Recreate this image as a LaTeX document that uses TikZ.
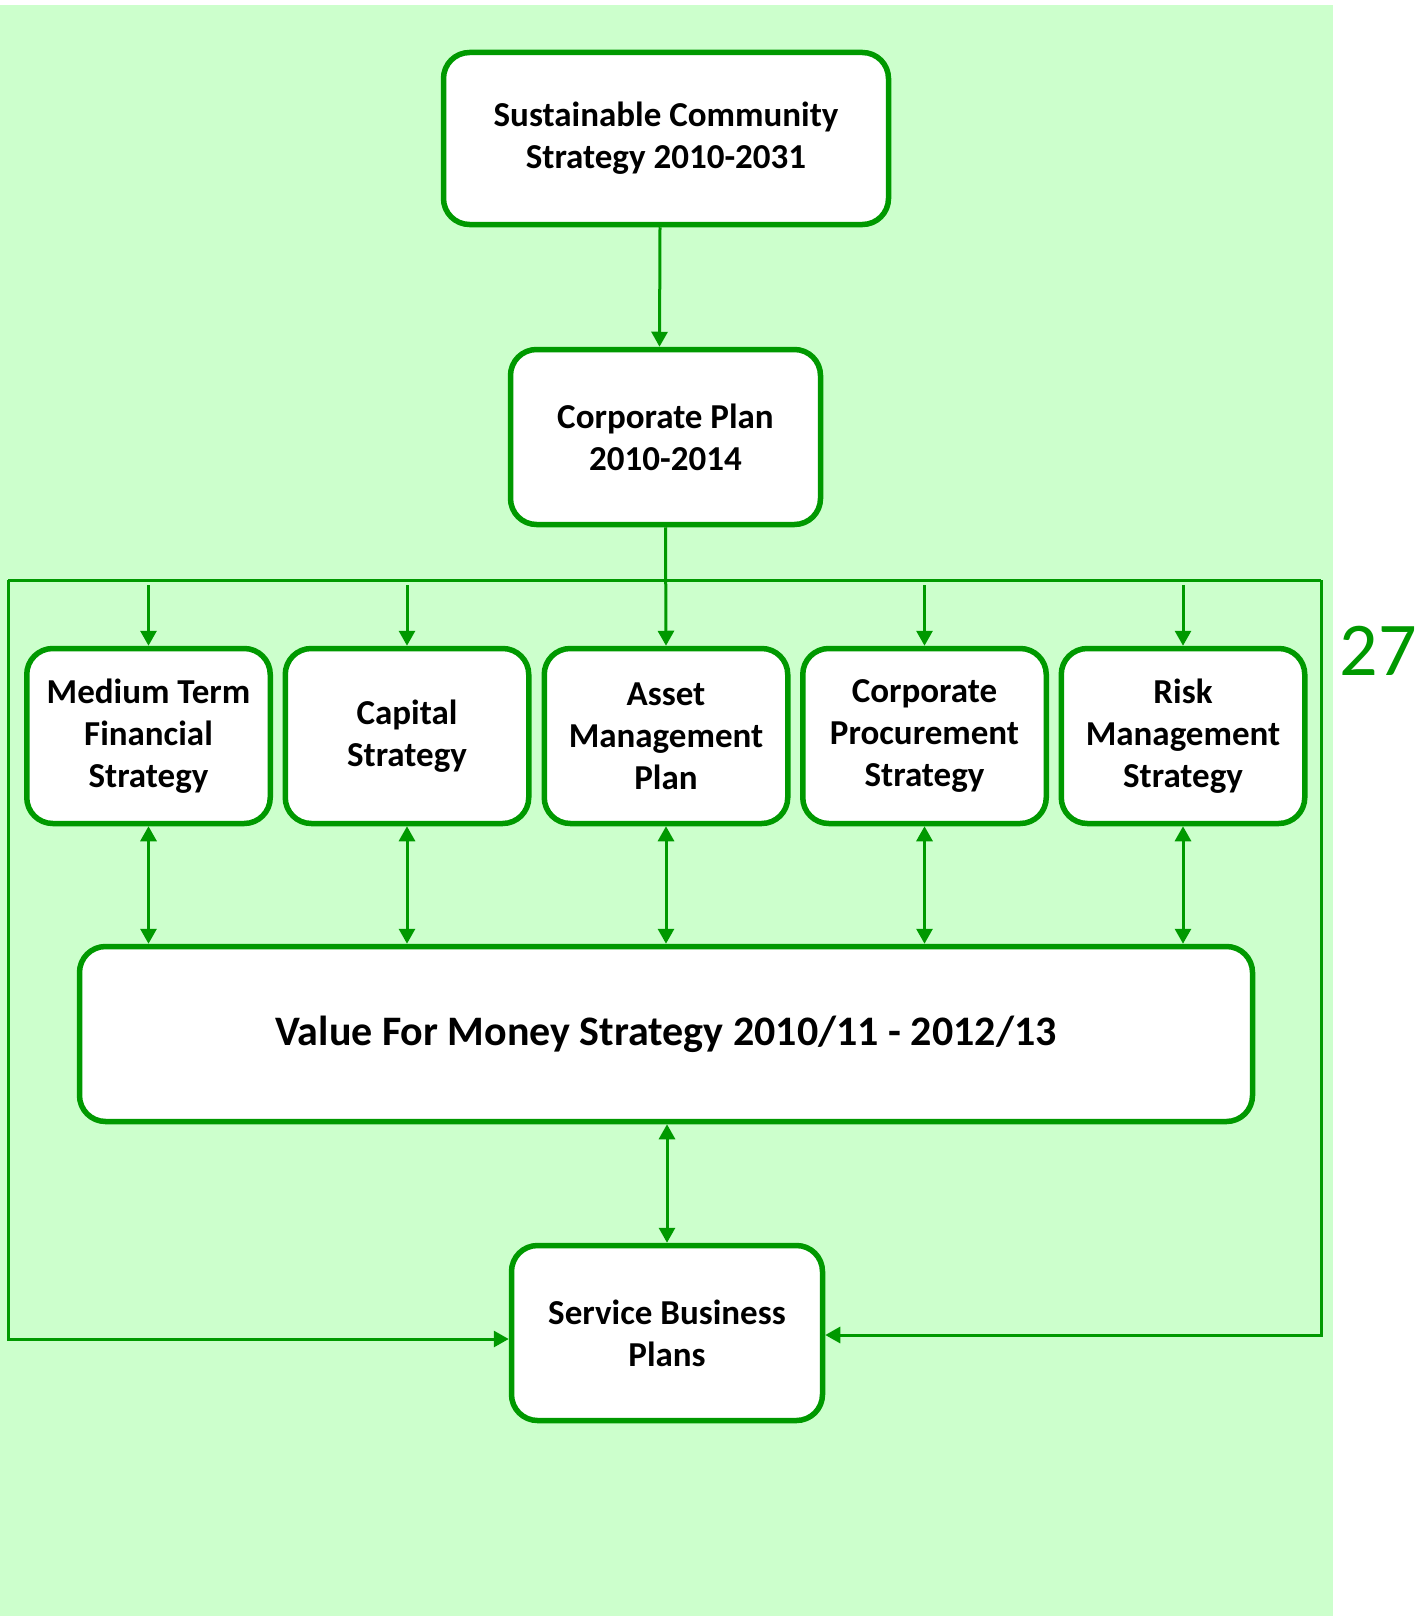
\documentclass[tikz,border=0pt]{standalone}
\usepackage{fontspec}
\setmainfont{Carlito}
\usetikzlibrary{arrows.meta}

\definecolor{linegreen}{RGB}{0,153,0}
\definecolor{bggreen}{RGB}{204,255,204}

\begin{document}
\begin{tikzpicture}[x=1pt, y=-1pt,
  box/.style={draw=linegreen, line width=5.5pt, fill=white, rounded corners=26pt,
    align=center, font=\fontsize{35}{42}\selectfont\bfseries, minimum height=175pt},
  link/.style={draw=linegreen, line width=3pt, -{Triangle[length=15pt,width=16pt]}},
  twoway/.style={link, {Triangle[length=15pt,width=16pt]}-{Triangle[length=15pt,width=16pt]}},
  frame/.style={draw=linegreen, line width=3pt}]
  \useasboundingbox (0,0) rectangle (1424,1616);
  \fill[bggreen] (0,5) rectangle (1333,1616);

  % plans
  \node[box, minimum width=445pt, minimum height=172pt] (scs) at (666,138.5)
    {Sustainable Community\\Strategy 2010-2031};
  \node[box, minimum width=310pt] (cp) at (665.5,437) {Corporate Plan\\2010-2014};

  % strategies row
  \node[box, minimum width=243.5pt] (mtfs) at (148.5,736) {Medium Term\\Financial\\Strategy};
  \node[box, minimum width=243.5pt] (cs) at (407,736) {Capital\\Strategy};
  \node[box, minimum width=243.5pt] (amp) at (666,736) {Asset\\Management\\Plan};
  \node[box, minimum width=243.5pt] (cps) at (924.5,736) {Corporate\\Procurement\\Strategy};
  \node[box, minimum width=243.5pt] (rms) at (1183,736) {Risk\\Management\\Strategy};

  \node[box, minimum width=1173pt, font=\fontsize{42}{50}\selectfont\bfseries] (vfm) at (666,1034)
    {Value For Money Strategy 2010/11 - 2012/13};
  \node[box, minimum width=311pt] (sbp) at (667,1333) {Service Business\\Plans};

  \node[text=linegreen, font=\fontsize{76}{90}\selectfont, anchor=base] (page) at (1378,675) {27};

  % frame
  \coordinate (ftl) at (8,580);
  \coordinate (ftr) at (1321,580);
  \coordinate (fbl) at (8,1339);
  \coordinate (fbr) at (1321,1335);
  \coordinate (fa) at (0,585);
  \draw[frame] (ftl) -- (ftr);
  \draw[link] (ftl) -- (fbl) -- (fbl -| sbp.west);
  \draw[link] (ftr) -- (fbr) -- (fbr -| sbp.east);

  % connectors
  \draw[link] ([xshift=-6pt]scs.south) -- ([xshift=-6pt]cp.north);
  \draw[link] (cp.south) -- (amp.north);
  \foreach \s in {mtfs, cs, cps, rms} {
    \draw[link] (\s.north |- fa) -- (\s.north);
  }
  \foreach \s in {mtfs, cs, amp, cps, rms} {
    \draw[twoway] (\s.south) -- (\s.south |- vfm.north);
  }
  \draw[twoway] (vfm.south -| sbp.north) -- (sbp.north);
\end{tikzpicture}
\end{document}
